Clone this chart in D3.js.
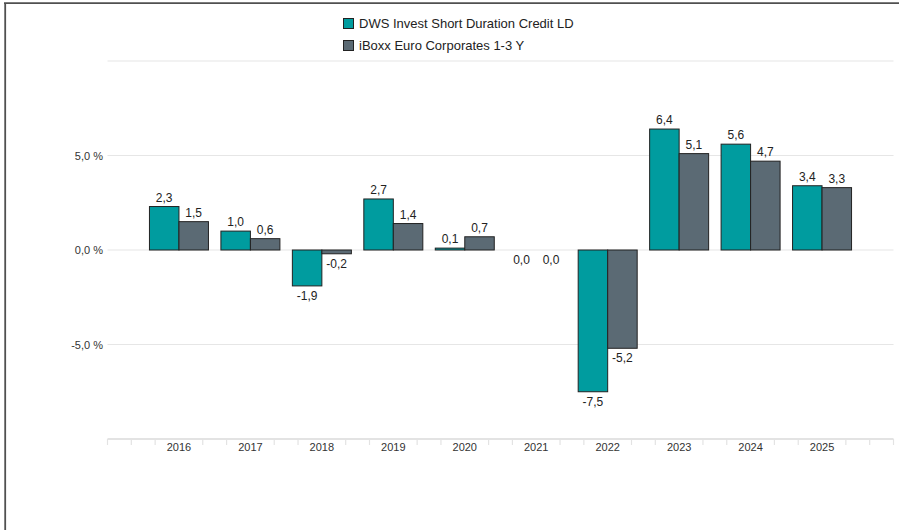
<!DOCTYPE html>
<html>
<head>
<meta charset="utf-8">
<script src="https://cdn.jsdelivr.net/npm/d3@7"></script>
<style>
  body { margin: 0; background: #fff; }
  svg { display: block; font-family: "Liberation Sans", Arial, sans-serif; }
</style>
</head>
<body>
<div class="canvas"></div>
<script>
// data
const years = [2016, 2017, 2018, 2019, 2020, 2021, 2022, 2023, 2024, 2025];
const fundValues = [2.3, 1.0, -1.9, 2.7, 0.1, 0.0, -7.5, 6.4, 5.6, 3.4];
const indexValues = [1.5, 0.6, -0.2, 1.4, 0.7, 0.0, -5.2, 5.1, 4.7, 3.3];
const seriesNames = ['DWS Invest Short Duration Credit LD', 'iBoxx Euro Corporates 1-3 Y'];
const yTicks = [10, 5, 0, -5];
const yLabelled = [5, 0, -5];

const colors = ['#009c9f', '#5b6a74'];
const width = 899, height = 530;

const svg = d3.select('.canvas')
    .append('svg')
    .attr('width', width)
    .attr('height', height);

// frame
svg.append('line')
    .attr('x1', 4).attr('x2', width).attr('y1', 3.2).attr('y2', 3.2)
    .attr('stroke', '#505050').attr('stroke-width', 1.8);
svg.append('line')
    .attr('x1', 5.2).attr('x2', 5.2).attr('y1', 3).attr('y2', height)
    .attr('stroke', '#505050').attr('stroke-width', 1.8);

// scales
const x = d3.scaleLinear().domain([2015, 2026]).range([107.5, 893.5]);
const y = d3.scaleLinear().domain([-10, 10]).range([439, 61]);
const band = x(2017) - x(2016);
const barW = 29.5;

// gridlines
svg.append('g')
    .selectAll('line')
    .data(yTicks)
    .enter()
    .append('line')
    .attr('x1', 107.5).attr('x2', 893.5)
    .attr('y1', d => y(d)).attr('y2', d => y(d))
    .attr('stroke', '#e6e6e6')
    .attr('stroke-width', 1.2);

// y axis labels
svg.append('g')
    .selectAll('text')
    .data(yLabelled)
    .enter()
    .append('text')
    .attr('x', 103)
    .attr('y', d => y(d) + 4)
    .attr('text-anchor', 'end')
    .attr('font-size', 11)
    .attr('fill', '#333')
    .text(d => d3.format('.1f')(d).replace('.', ',').replace('−', '-') + ' %');

// x axis line and minor ticks
svg.append('line')
    .attr('x1', 107.5).attr('x2', 893.5)
    .attr('y1', y(-10)).attr('y2', y(-10))
    .attr('stroke', '#e3e3e3')
    .attr('stroke-width', 2);

const tickPos = d3.range(0, 34).map(i => 2015 + i / 3)
    .filter(t => Math.abs(t - Math.round(t)) > 0.01 || Math.round(t) < 2016 || Math.round(t) > 2025);
svg.append('g')
    .selectAll('line')
    .data(tickPos)
    .enter()
    .append('line')
    .attr('x1', d => x(d)).attr('x2', d => x(d))
    .attr('y1', y(-10)).attr('y2', y(-10) + 6)
    .attr('stroke', '#e3e3e3')
    .attr('stroke-width', 1.2);

svg.append('g')
    .selectAll('text')
    .data(years)
    .enter()
    .append('text')
    .attr('x', d => x(d))
    .attr('y', y(-10) + 12)
    .attr('text-anchor', 'middle')
    .attr('font-size', 11)
    .attr('fill', '#333')
    .text(d => d);

// bars
const fmt = v => d3.format('.1f')(v).replace('.', ',').replace('−', '-');
[fundValues, indexValues].forEach((vals, s) => {
    const g = svg.append('g');
    const rows = years.map((yr, i) => ({ year: yr, v: vals[i] }));
    g.selectAll('rect')
        .data(rows.filter(d => d.v !== 0))
        .enter()
        .append('rect')
        .attr('x', d => x(d.year) - barW + s * barW)
        .attr('y', d => y(Math.max(0, d.v)))
        .attr('width', barW)
        .attr('height', d => Math.abs(y(d.v) - y(0)))
        .attr('fill', colors[s])
        .attr('stroke', '#222')
        .attr('stroke-width', 1);
    g.selectAll('text')
        .data(rows)
        .enter()
        .append('text')
        .attr('x', d => x(d.year) - barW / 2 + s * barW)
        .attr('y', d => d.v > 0 ? y(d.v) - 5 : y(d.v) + 14)
        .attr('text-anchor', 'middle')
        .attr('font-size', 12)
        .attr('fill', '#222')
        .text(d => fmt(d.v));
});

// legend
const legend = svg.append('g').attr('transform', 'translate(343, 18)');
seriesNames.forEach((name, i) => {
    legend.append('rect')
        .attr('x', 0.5).attr('y', i * 22 + 0.5)
        .attr('width', 10).attr('height', 10)
        .attr('fill', colors[i])
        .attr('stroke', '#222')
        .attr('stroke-width', 1);
    legend.append('text')
        .attr('x', 16).attr('y', i * 22 + 10)
        .attr('font-size', 13)
        .attr('fill', '#222')
        .text(name);
});
</script>
</body>
</html>
